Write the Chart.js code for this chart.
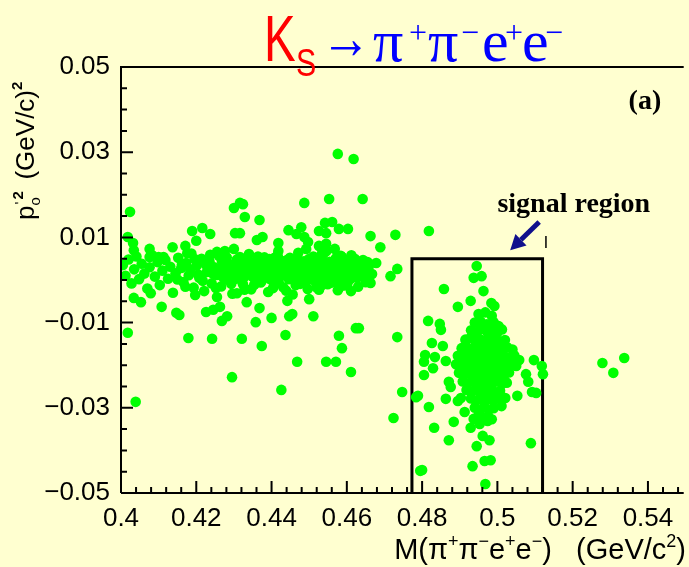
<!DOCTYPE html>
<html>
<head>
<meta charset="utf-8">
<script src="https://cdn.jsdelivr.net/npm/chart.js@4/dist/chart.umd.min.js"></script>
<style>
  html, body { margin: 0; padding: 0; background: #ffffd0; }
  canvas { display: block; }
</style>
</head>
<body>
<canvas id="scatter-chart" width="689" height="567"></canvas>
<script>
// Axis ranges and tick labels
const xRange = [0.4, 0.5495];
const yRange = [-0.05, 0.05];
const xTickValues = [0.4, 0.42, 0.44, 0.46, 0.48, 0.5, 0.52, 0.54];
const xTickLabels = ['0.4', '0.42', '0.44', '0.46', '0.48', '0.5', '0.52', '0.54'];
const yTickValues = [-0.05, -0.03, -0.01, 0.01, 0.03, 0.05];
const yTickLabels = ['\u22120.05', '\u22120.03', '\u22120.01', '0.01', '0.03', '0.05'];

// Signal region box (M range, p0'^2 range)
const boxX = [0.4773, 0.5120];
const boxY = [-0.05, 0.005];

// Dense band of background events
const bandPoints = [
  [0.4005,0.0035],[0.4012,0.0010],[0.4020,0.0048],[0.4028,-0.0008],[0.4035,0.0025],[0.4041,0.0055],[0.4048,0.0002],
  [0.4055,0.0038],[0.4062,0.0015],[0.4070,-0.0020],[0.4076,0.0030],[0.4083,0.0058],[0.4090,0.0008],[0.4097,0.0042],
  [0.4103,-0.0012],[0.4110,0.0022],[0.4118,0.0047],[0.4125,0.0003],[0.4131,0.0031],[0.4138,-0.0030],[0.4145,0.0016],
  [0.4152,0.0052],[0.4160,0.0028],[0.4166,-0.0005],[0.4173,0.0040],[0.4180,0.0011],[0.4187,0.0062],[0.4193,-0.0018],
  [0.4201,0.0034],[0.4208,0.0005],[0.4214,0.0050],[0.4221,-0.0026],[0.4228,0.0019],[0.4235,0.0044],[0.4241,-0.0008],
  [0.4248,0.0030],[0.4254,0.0012],[0.4260,0.0057],[0.4266,-0.0015],[0.4272,0.0025],[0.4278,0.0042],[0.4284,0.0001],
  [0.4290,0.0036],[0.4296,-0.0032],[0.4302,0.0018],[0.4308,0.0048],[0.4313,0.0007],[0.4319,0.0029],[0.4324,-0.0010],
  [0.4330,0.0040],[0.4335,0.0014],[0.4340,0.0061],[0.4346,-0.0022],[0.4351,0.0024],[0.4356,0.0003],[0.4361,0.0046],
  [0.4366,0.0017],[0.4371,-0.0006],[0.4376,0.0033],[0.4381,0.0053],[0.4386,0.0010],[0.4391,-0.0028],[0.4396,0.0026],
  [0.4401,0.0041],[0.4406,-0.0004],[0.4411,0.0019],[0.4416,0.0058],[0.4421,0.0008],[0.4426,0.0035],[0.4431,-0.0017],
  [0.4436,0.0022],[0.4441,0.0047],[0.4446,0.0002],[0.4451,0.0030],[0.4456,-0.0034],[0.4461,0.0013],[0.4466,0.0039],
  [0.4471,0.0064],[0.4476,-0.0009],[0.4481,0.0027],[0.4486,0.0044],[0.4491,0.0006],[0.4496,-0.0021],[0.4501,0.0032],
  [0.4506,0.0015],[0.4511,0.0055],[0.4516,-0.0003],[0.4521,0.0038],[0.4526,0.0020],[0.4531,-0.0014],[0.4536,0.0045],
  [0.4541,0.0009],[0.4546,0.0068],[0.4551,0.0026],[0.4556,-0.0007],[0.4561,0.0036],[0.4566,0.0012],[0.4571,0.0051],
  [0.4576,-0.0024],[0.4581,0.0029],[0.4586,0.0004],[0.4591,0.0043],[0.4596,0.0018],[0.4601,-0.0011],[0.4606,0.0034],
  [0.4612,0.0058],[0.4618,0.0010],[0.4624,0.0039],[0.4630,-0.0016],[0.4636,0.0023],[0.4643,0.0047],[0.4650,0.0007],
  [0.4658,0.0031],[0.4667,0.0014],[0.4678,0.0040],
  [0.4150,0.0001],[0.4162,0.0037],[0.4171,-0.0016],[0.4184,0.0025],[0.4196,0.0049],[0.4205,0.0013],[0.4217,-0.0002],
  [0.4226,0.0036],[0.4237,0.0059],[0.4244,0.0015],[0.4252,-0.0019],[0.4263,0.0027],[0.4270,0.0008],[0.4281,0.0053],
  [0.4287,0.0022],[0.4293,-0.0009],[0.4300,0.0033],[0.4306,0.0003],[0.4316,0.0054],[0.4322,0.0016],[0.4328,-0.0023],
  [0.4333,0.0027],[0.4343,0.0036],[0.4349,0.0008],[0.4354,-0.0011],[0.4359,0.0031],[0.4364,0.0055],[0.4369,0.0020],
  [0.4374,-0.0002],[0.4379,0.0042],[0.4384,0.0025],[0.4389,0.0006],[0.4394,0.0049],[0.4399,0.0014],[0.4404,-0.0019],
  [0.4409,0.0037],[0.4414,0.0021],[0.4419,-0.0005],[0.4424,0.0046],[0.4429,0.0011],[0.4434,0.0032],[0.4439,-0.0025],
  [0.4444,0.0017],[0.4449,0.0052],[0.4454,0.0008],[0.4459,0.0029],[0.4464,-0.0012],[0.4469,0.0021],[0.4474,0.0045],
  [0.4479,0.0004],[0.4484,0.0035],[0.4489,-0.0006],[0.4494,0.0019],[0.4499,0.0049],[0.4504,0.0001],[0.4509,0.0027],
  [0.4514,0.0041],[0.4519,-0.0017],[0.4524,0.0013],[0.4529,0.0034],[0.4534,0.0062],[0.4539,0.0003],[0.4544,0.0024],
  [0.4549,-0.0010],[0.4554,0.0043],[0.4559,0.0016],[0.4564,0.0030],[0.4569,-0.0004],[0.4574,0.0040],[0.4579,0.0011],
  [0.4584,0.0057],[0.4589,0.0021],[0.4594,-0.0013],[0.4599,0.0030],[0.4604,0.0046],[0.4609,0.0002],[0.4615,0.0024],
  [0.4621,0.0050],[0.4627,0.0005],[0.4634,0.0031],
  [0.4258,0.0020],[0.4268,0.0045],[0.4276,0.0002],[0.4286,0.0030],[0.4298,0.0009],[0.4311,0.0038],[0.4326,0.0006],
  [0.4338,0.0047],[0.4348,0.0020],[0.4358,0.0039],[0.4368,0.0004],[0.4378,0.0019],[0.4388,0.0037],[0.4398,0.0001],
  [0.4408,0.0052],[0.4418,0.0026],[0.4428,0.0015],[0.4438,0.0041],[0.4448,0.0024],[0.4458,0.0044],[0.4468,0.0001],
  [0.4478,0.0033],[0.4488,0.0012],[0.4498,0.0038],[0.4508,0.0008],[0.4518,0.0024],[0.4528,0.0049],[0.4538,0.0017],
  [0.4548,0.0035],[0.4558,0.0009],[0.4568,0.0023],[0.4578,0.0046],[0.4588,0.0033],[0.4598,0.0008],[0.4608,0.0021]
];

// Scattered background events around the band and outliers
const scatterPoints = [
  [0.4024,0.0160],[0.4300,0.0169],[0.4216,0.0122],[0.4189,0.0115],[0.4237,0.0108],[0.4200,0.0092],[0.4303,0.0110],
  [0.4018,0.0101],[0.4032,0.0087],[0.4034,0.0070],[0.4137,0.0077],[0.4076,0.0073],[0.4171,0.0080],[0.4176,0.0063],
  [0.4255,0.0066],[0.4276,0.0068],[0.4300,0.0073],[0.4076,0.0054],[0.4100,0.0054],[0.4113,0.0054],[0.4316,0.0181],
  [0.4576,0.0296],[0.4618,0.0284],[0.4553,0.0190],[0.4487,0.0181],[0.4324,0.0178],[0.4329,0.0148],[0.4368,0.0141],
  [0.4542,0.0134],[0.4561,0.0136],[0.4445,0.0117],[0.4479,0.0124],[0.4466,0.0108],[0.4526,0.0115],[0.4545,0.0110],
  [0.4579,0.0120],[0.4603,0.0120],[0.4316,0.0110],[0.4361,0.0094],[0.4376,0.0101],[0.4418,0.0087],[0.4418,0.0068],
  [0.4487,0.0101],[0.4497,0.0089],[0.4492,0.0073],[0.4526,0.0080],[0.4545,0.0085],[0.4568,0.0073],[0.4587,0.0054],
  [0.4539,0.0063],[0.4642,0.0190],[0.4818,0.0115],[0.4663,0.0103],[0.4729,0.0106],[0.4689,0.0077],[0.4655,0.0042],
  [0.4645,0.0019],[0.4734,0.0026],[0.4716,0.0009],[0.4650,-0.0005],[0.4663,-0.0007],[0.4632,0.0028],
  [0.4018,-0.0124],[0.4039,-0.0286],[0.4108,-0.0063],[0.4147,-0.0077],[0.4155,-0.0082],[0.4179,-0.0136],[0.4242,-0.0138],
  [0.4226,-0.0075],[0.4245,-0.0070],[0.4263,-0.0063],[0.4282,-0.0085],[0.4268,-0.0096],[0.4295,-0.0228],[0.4321,-0.0138],
  [0.4334,-0.0052],[0.4368,-0.0066],[0.4358,-0.0099],[0.4400,-0.0089],[0.4374,-0.0155],[0.4437,-0.0129],[0.4442,-0.0049],
  [0.4447,-0.0085],[0.4455,-0.0080],[0.4426,-0.0258],[0.4468,-0.0192],[0.4500,-0.0045],[0.4511,-0.0085],[0.4545,-0.0192],
  [0.4571,-0.0192],[0.4579,-0.0131],[0.4587,-0.0160],[0.4611,-0.0216],[0.4624,-0.0113],[0.4053,-0.0052],[0.4034,-0.0042],
  [0.4079,-0.0031],[0.4197,-0.0035],[0.4255,-0.0040],[0.4308,-0.0031],[0.4526,-0.0023],[0.4579,-0.0019],[0.4611,-0.0026],
  [0.4632,-0.0113],[0.4734,-0.0134],[0.4747,-0.0263],[0.4724,-0.0324],[0.4784,-0.0275],[0.4795,-0.0448],
  [0.5279,-0.0195],[0.5308,-0.0218],[0.5337,-0.0183]
];

// K_S -> pi pi e e candidates around the signal peak
const signalPoints = [
  [0.4945,0.0033],[0.4937,0.0005],[0.4958,0.0009],[0.4858,-0.0021],[0.4963,-0.0026],[0.4929,-0.0049],[0.4895,-0.0063],
  [0.4984,-0.0054],[0.4992,-0.0061],[0.4816,-0.0096],[0.4847,-0.0103],[0.4850,-0.0117],[0.4826,-0.0148],[0.4855,-0.0155],
  [0.4808,-0.0176],[0.4805,-0.0192],[0.4834,-0.0181],[0.4863,-0.0190],[0.4829,-0.0207],[0.4805,-0.0223],[0.4789,-0.0272],
  [0.4818,-0.0298],[0.4863,-0.0279],[0.4884,-0.0333],[0.4832,-0.0347],[0.4871,-0.0376],[0.5089,-0.0383],[0.4800,-0.0446],
  [0.4934,-0.0437],[0.4966,-0.0425],[0.4982,-0.0423],[0.4945,-0.0390],[0.4961,-0.0366],[0.4979,-0.0376],[0.4968,-0.0479],
  [0.4929,-0.0347],[0.4913,-0.0310],[0.5097,-0.0188],[0.5118,-0.0202],[0.5121,-0.0221],[0.5058,-0.0188],[0.5076,-0.0221],
  [0.5082,-0.0239],[0.5092,-0.0263],[0.5103,-0.0265],[0.5053,-0.0272],[0.5011,-0.0296],[0.5021,-0.0277],[0.4971,-0.0322],
  [0.4974,-0.0331],[0.4937,-0.0326],[0.4953,-0.0338],[0.4895,-0.0284],[0.4903,-0.0277],[0.4876,-0.0251],[0.4871,-0.0239],
  [0.4950,-0.0080],[0.4968,-0.0076],[0.4985,-0.0084],
  [0.4940,-0.0100],[0.4955,-0.0097],[0.4972,-0.0104],[0.4990,-0.0099],[0.5003,-0.0108],
  [0.4930,-0.0118],[0.4945,-0.0122],[0.4960,-0.0115],[0.4975,-0.0125],[0.4988,-0.0119],[0.5000,-0.0123],[0.5012,-0.0116],
  [0.4915,-0.0140],[0.4928,-0.0136],[0.4942,-0.0144],[0.4952,-0.0138],[0.4963,-0.0146],[0.4973,-0.0139],[0.4984,-0.0143],
  [0.4995,-0.0137],[0.5006,-0.0145],[0.5020,-0.0141],
  [0.4905,-0.0160],[0.4918,-0.0157],[0.4930,-0.0164],[0.4940,-0.0158],[0.4950,-0.0162],[0.4958,-0.0155],[0.4966,-0.0166],
  [0.4975,-0.0159],[0.4983,-0.0163],[0.4992,-0.0156],[0.5001,-0.0165],[0.5012,-0.0160],[0.5026,-0.0158],[0.5040,-0.0163],
  [0.4895,-0.0178],[0.4908,-0.0183],[0.4920,-0.0176],[0.4931,-0.0185],[0.4941,-0.0179],[0.4950,-0.0184],[0.4958,-0.0175],
  [0.4966,-0.0182],[0.4974,-0.0177],[0.4982,-0.0186],[0.4990,-0.0180],[0.4999,-0.0176],[0.5008,-0.0184],[0.5019,-0.0179],
  [0.5031,-0.0183],[0.5045,-0.0177],
  [0.4890,-0.0198],[0.4902,-0.0203],[0.4914,-0.0196],[0.4925,-0.0205],[0.4935,-0.0199],[0.4944,-0.0204],[0.4953,-0.0196],
  [0.4961,-0.0202],[0.4969,-0.0197],[0.4977,-0.0206],[0.4985,-0.0200],[0.4994,-0.0195],[0.5003,-0.0204],[0.5013,-0.0199],
  [0.5024,-0.0205],[0.5037,-0.0197],[0.5050,-0.0202],
  [0.4898,-0.0218],[0.4911,-0.0223],[0.4923,-0.0216],[0.4934,-0.0225],[0.4944,-0.0219],[0.4953,-0.0224],[0.4962,-0.0217],
  [0.4970,-0.0226],[0.4979,-0.0220],[0.4988,-0.0215],[0.4997,-0.0224],[0.5007,-0.0218],[0.5018,-0.0223],[0.5031,-0.0217],
  [0.4908,-0.0238],[0.4921,-0.0243],[0.4933,-0.0236],[0.4944,-0.0245],[0.4954,-0.0239],[0.4963,-0.0244],[0.4972,-0.0237],
  [0.4981,-0.0246],[0.4991,-0.0240],[0.5001,-0.0235],[0.5012,-0.0244],[0.5025,-0.0241],
  [0.4918,-0.0258],[0.4931,-0.0263],[0.4943,-0.0256],[0.4954,-0.0265],[0.4964,-0.0259],[0.4974,-0.0264],[0.4984,-0.0257],
  [0.4995,-0.0266],[0.5007,-0.0260],
  [0.4930,-0.0278],[0.4943,-0.0284],[0.4955,-0.0276],[0.4966,-0.0285],[0.4977,-0.0279],[0.4989,-0.0283],[0.5000,-0.0277],
  [0.4940,-0.0300],[0.4953,-0.0306],[0.4965,-0.0298],[0.4978,-0.0304],[0.4990,-0.0301],
  [0.4950,-0.0318],[0.4962,-0.0325],[0.4975,-0.0320],[0.4985,-0.0327],
  [0.4960,-0.0190],[0.4970,-0.0210],[0.4948,-0.0172],[0.4978,-0.0192],[0.4956,-0.0212],[0.4986,-0.0170],[0.4964,-0.0230],
  [0.4942,-0.0190],[0.4992,-0.0212],[0.4972,-0.0150],[0.4958,-0.0250],[0.4996,-0.0190]
];

// Annotation anchors in data units
const arrowFrom = [0.5111, 0.0136];
const arrowTo = [0.5034, 0.0070];
const signalLabelPos = [0.5203, 0.0176];
const panelLabelPos = [0.5392, 0.0418];

const BG = '#ffffd0';
const GREEN = '#00ff00';
const SANS = '"Liberation Sans", Arial, sans-serif';
const SERIF = '"Liberation Serif", "Times New Roman", serif';

const toXY = pts => pts.map(p => ({ x: p[0], y: p[1] }));

// Background colour for whole canvas
const backgroundPlugin = {
  id: 'bg',
  beforeDraw(chart) {
    const ctx = chart.ctx;
    ctx.save();
    ctx.fillStyle = BG;
    ctx.fillRect(0, 0, chart.width, chart.height);
    ctx.restore();
  }
};

// Signal region box, drawn under the points
const boxPlugin = {
  id: 'signalBox',
  beforeDatasetsDraw(chart) {
    const { ctx, scales: { x, y } } = chart;
    const x0 = x.getPixelForValue(boxX[0]), x1 = x.getPixelForValue(boxX[1]);
    const y0 = y.getPixelForValue(boxY[0]), y1 = y.getPixelForValue(boxY[1]);
    ctx.save();
    ctx.strokeStyle = '#000';
    ctx.lineWidth = 3;
    ctx.beginPath();
    ctx.moveTo(x0, y0);
    ctx.lineTo(x0, y1);
    ctx.lineTo(x1, y1);
    ctx.lineTo(x1, y0);
    ctx.stroke();
    ctx.restore();
  }
};

// ROOT-like frame with inward ticks
const framePlugin = {
  id: 'frame',
  afterDatasetsDraw(chart) {
    const { ctx, chartArea: a, scales: { x, y } } = chart;
    ctx.save();
    ctx.strokeStyle = '#000';
    ctx.lineWidth = 2;
    ctx.beginPath();
    ctx.moveTo(a.left, a.bottom);
    ctx.lineTo(a.left, a.top);
    ctx.lineTo(a.right, a.top);
    ctx.moveTo(a.left, a.bottom);
    ctx.lineTo(a.right, a.bottom);
    ctx.stroke();

    ctx.beginPath();
    for (let i = 0; i <= 37; i++) {
      const px = x.getPixelForValue(0.4 + i * 0.004);
      if (px > a.right) break;
      const len = i % 5 === 0 ? 12 : 6;
      ctx.moveTo(px, a.bottom);
      ctx.lineTo(px, a.bottom - len);
    }
    for (let i = 0; i <= 20; i++) {
      const py = y.getPixelForValue(-0.05 + i * 0.005);
      const len = i % 4 === 0 ? 12 : 6;
      ctx.moveTo(a.left, py);
      ctx.lineTo(a.left + len, py);
    }
    ctx.stroke();
    ctx.restore();
  }
};

// draws a run of text pieces: [text, font, color, dy]
function drawRun(ctx, pieces, x0, y0) {
  let cx = x0;
  pieces.forEach(p => {
    ctx.font = p[1];
    ctx.fillStyle = p[2];
    ctx.fillText(p[0], cx, y0 + p[3]);
    cx += ctx.measureText(p[0]).width;
  });
  return cx;
}

function runWidth(ctx, pieces) {
  let w = 0;
  pieces.forEach(p => { ctx.font = p[1]; w += ctx.measureText(p[0]).width; });
  return w;
}

const textPlugin = {
  id: 'texts',
  afterDraw(chart) {
    const { ctx, scales: { x, y } } = chart;
    ctx.save();
    ctx.textBaseline = 'alphabetic';
    ctx.textAlign = 'left';

    // Title: K_S -> pi+ pi- e+ e-
    ctx.fillStyle = '#ff0000';
    ctx.font = '64px ' + SANS;
    ctx.save(); ctx.translate(264, 61); ctx.scale(0.74, 1); ctx.fillText('K', 0, 0); ctx.restore();
    ctx.font = '38px ' + SANS;
    ctx.save(); ctx.translate(296, 76); ctx.scale(0.8, 1); ctx.fillText('S', 0, 0); ctx.restore();

    const blue = '#0000ff';
    const big = '60px ' + SERIF, sup = '32px ' + SERIF;
    ctx.fillStyle = blue;
    ctx.font = big;
    const aw = ctx.measureText('\u2192').width;
    ctx.save(); ctx.translate(321, 58); ctx.scale(50 / aw, 1); ctx.fillText('\u2192', 0, 0); ctx.restore();
    const titleGlyphs = [
      ['\u03c0', 373, big, 61], ['+', 409, sup, 43],
      ['\u03c0', 428, big, 61], ['\u2212', 461, sup, 43],
      ['e', 482, big, 61], ['+', 505, sup, 43],
      ['e', 522, big, 61], ['\u2212', 545, sup, 43]
    ];
    titleGlyphs.forEach(g => { ctx.font = g[2]; ctx.fillText(g[0], g[1], g[3]); });

    // X axis title
    const xf = '29px ' + SANS, xs = '18px ' + SANS;
    const xPieces = [
      ['M(\u03c0', xf, '#000', 0], ['+', xs, '#000', -12], ['\u03c0', xf, '#000', 0], ['\u2212', xs, '#000', -12],
      ['e', xf, '#000', 0], ['+', xs, '#000', -12], ['e', xf, '#000', 0], ['\u2212', xs, '#000', -12],
      [')   (GeV/c', xf, '#000', 0], ['2', xs, '#000', -12], [')', xf, '#000', 0]
    ];
    drawRun(ctx, xPieces, 686 - runWidth(ctx, xPieces), 559);

    // Y axis title (rotated)
    ctx.save();
    ctx.translate(34, 220);
    ctx.rotate(-Math.PI / 2);
    const yf = '26px ' + SANS, ys = '15px ' + SANS;
    ctx.font = yf; ctx.fillStyle = '#000';
    ctx.fillText('p', 0, 0);
    const pw = ctx.measureText('p').width;
    ctx.font = ys;
    ctx.fillText('o', pw, 6);
    ctx.fillText('\'', pw + 1, -9);
    ctx.font = 'bold ' + ys;
    ctx.fillText('2', pw + 6, -11);
    drawRun(ctx, [['(GeV/c)', yf, '#000', 0], ['2', 'bold ' + ys, '#000', -12]], pw + 26, 0);
    ctx.restore();

    // signal region label and panel tag
    ctx.fillStyle = '#000';
    ctx.font = 'bold 28px ' + SERIF;
    ctx.textAlign = 'center';
    ctx.textBaseline = 'middle';
    ctx.fillText('signal region', x.getPixelForValue(signalLabelPos[0]), y.getPixelForValue(signalLabelPos[1]));
    ctx.fillText('(a)', x.getPixelForValue(panelLabelPos[0]), y.getPixelForValue(panelLabelPos[1]));

    // arrow pointing to the box
    const ax0 = x.getPixelForValue(arrowFrom[0]), ay0 = y.getPixelForValue(arrowFrom[1]);
    const ax1 = x.getPixelForValue(arrowTo[0]), ay1 = y.getPixelForValue(arrowTo[1]);
    const ang = Math.atan2(ay1 - ay0, ax1 - ax0);
    const hl = 15, hw = 8;
    const bx = ax1 - hl * Math.cos(ang), by = ay1 - hl * Math.sin(ang);
    ctx.strokeStyle = '#10108c';
    ctx.fillStyle = '#10108c';
    ctx.lineWidth = 5;
    ctx.beginPath(); ctx.moveTo(ax0, ay0); ctx.lineTo(bx, by); ctx.stroke();
    ctx.beginPath();
    ctx.moveTo(ax1, ay1);
    ctx.lineTo(bx + hw * Math.sin(ang), by - hw * Math.cos(ang));
    ctx.lineTo(bx - hw * Math.sin(ang), by + hw * Math.cos(ang));
    ctx.closePath();
    ctx.fill();

    // small stray mark right of the arrow
    const mx = x.getPixelForValue(0.5129);
    ctx.strokeStyle = '#000';
    ctx.lineWidth = 1.5;
    ctx.beginPath();
    ctx.moveTo(mx, y.getPixelForValue(0.0103));
    ctx.lineTo(mx, y.getPixelForValue(0.0075));
    ctx.stroke();
    ctx.restore();
  }
};

const pointStyle = {
  backgroundColor: GREEN,
  borderWidth: 0,
  pointRadius: 5.3,
  pointHoverRadius: 5.3
};

new Chart(document.getElementById('scatter-chart'), {
  type: 'scatter',
  data: {
    datasets: [
      { label: 'band', data: toXY(bandPoints), ...pointStyle },
      { label: 'scattered', data: toXY(scatterPoints), ...pointStyle },
      { label: 'signal', data: toXY(signalPoints), ...pointStyle }
    ]
  },
  options: {
    responsive: false,
    animation: false,
    devicePixelRatio: 1,
    layout: { padding: { top: 67, left: 0, right: 0, bottom: 0 } },
    plugins: {
      legend: { display: false },
      tooltip: { enabled: false }
    },
    scales: {
      x: {
        type: 'linear',
        min: xRange[0],
        max: xRange[1],
        afterBuildTicks: scale => { scale.ticks = xTickValues.map(v => ({ value: v })); },
        afterFit: scale => { scale.height = 74; },
        grid: { display: false, drawTicks: false },
        border: { display: false },
        ticks: {
          autoSkip: false,
          maxRotation: 0,
          padding: 10,
          color: '#000',
          font: { family: SANS, size: 26 },
          callback: (value, index) => xTickLabels[index]
        }
      },
      y: {
        type: 'linear',
        min: yRange[0],
        max: yRange[1],
        afterBuildTicks: scale => { scale.ticks = yTickValues.map(v => ({ value: v })); },
        afterFit: scale => { scale.width = 121; },
        grid: { display: false, drawTicks: false },
        border: { display: false },
        ticks: {
          autoSkip: false,
          padding: 11,
          color: '#000',
          font: { family: SANS, size: 26 },
          callback: (value, index) => yTickLabels[index]
        }
      }
    }
  },
  plugins: [backgroundPlugin, boxPlugin, framePlugin, textPlugin]
});
</script>
</body>
</html>
